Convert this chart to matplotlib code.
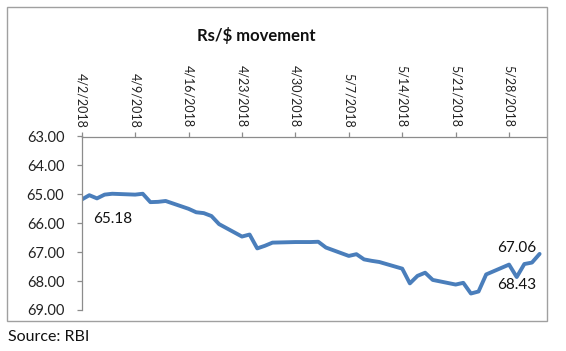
import matplotlib
matplotlib.use("Agg")
import matplotlib.pyplot as plt
from matplotlib.patches import Rectangle
import datetime as dt

plt.rcParams['font.family'] = ['Lato', 'DejaVu Sans']

dates = ["2018-04-02", "2018-04-03", "2018-04-04", "2018-04-05", "2018-04-06",
         "2018-04-09", "2018-04-10", "2018-04-11", "2018-04-12", "2018-04-13",
         "2018-04-16", "2018-04-17", "2018-04-18", "2018-04-19", "2018-04-20",
         "2018-04-23", "2018-04-24", "2018-04-25", "2018-04-26", "2018-04-27",
         "2018-04-30", "2018-05-02", "2018-05-03", "2018-05-04",
         "2018-05-07", "2018-05-08", "2018-05-09", "2018-05-10", "2018-05-11",
         "2018-05-14", "2018-05-15", "2018-05-16", "2018-05-17", "2018-05-18",
         "2018-05-21", "2018-05-22", "2018-05-23", "2018-05-24", "2018-05-25",
         "2018-05-28", "2018-05-29", "2018-05-30", "2018-05-31", "2018-06-01"]
rates = [65.18, 65.03, 65.14, 65.01, 64.98,
         65.01, 64.98, 65.27, 65.26, 65.23,
         65.50, 65.62, 65.65, 65.75, 66.03,
         66.46, 66.39, 66.87, 66.78, 66.67,
         66.65, 66.65, 66.64, 66.84,
         67.13, 67.07, 67.25, 67.30, 67.34,
         67.57, 68.08, 67.82, 67.71, 67.96,
         68.12, 68.06, 68.43, 68.36, 67.77,
         67.43, 67.86, 67.41, 67.36, 67.06]
tick_dates = ["2018-04-02", "2018-04-09", "2018-04-16", "2018-04-23", "2018-04-30",
              "2018-05-07", "2018-05-14", "2018-05-21", "2018-05-28"]
y_ticks = [63, 64, 65, 66, 67, 68, 69]
annotations = [("65.18", "2018-04-06", 65.85), ("67.06", "2018-05-29", 66.85),
               ("68.43", "2018-05-29", 68.15)]

x = [dt.datetime.strptime(d, "%Y-%m-%d") for d in dates]
xt = [dt.datetime.strptime(d, "%Y-%m-%d") for d in tick_dates]

W, H = 566, 351
fig = plt.figure(figsize=(W / 100, H / 100), dpi=100)
fig.patch.set_facecolor("white")

# chart border
fig.patches.append(Rectangle((7 / W, 1 - 321 / H), 540 / W, 314 / H,
                             transform=fig.transFigure, fill=False,
                             edgecolor="#a0a0a0", linewidth=1.0))

ax = fig.add_axes([81.7 / W, 1 - 310 / H, 464 / W, (310 - 136.5) / H])
ax.plot(x, rates, color="#4a7ebb", linewidth=2.8, solid_joinstyle="round",
        solid_capstyle="round")

ax.set_ylim(69, 63)
ax.set_yticks(y_ticks)
ax.set_yticklabels([f"{v:.2f}" for v in y_ticks])
ax.set_xlim(xt[0], xt[0] + dt.timedelta(days=60.8))
ax.set_xticks(xt)
ax.set_xticklabels([f"{d.month}/{d.day}/{d.year}" for d in xt], rotation=-90)
ax.xaxis.tick_top()
ax.xaxis.set_label_position("top")

for s in ["right", "bottom"]:
    ax.spines[s].set_visible(False)
for s in ["left", "top"]:
    ax.spines[s].set_color("#8c8c8c")
    ax.spines[s].set_linewidth(0.9)
ax.tick_params(axis="both", colors="#8c8c8c", length=3.5, width=0.9,
               labelcolor="#222222")
ax.tick_params(axis="x", pad=3, labelsize=9)
ax.tick_params(axis="y", pad=9, labelsize=10.5)

for txt, d, v in annotations:
    ax.text(dt.datetime.strptime(d, "%Y-%m-%d"), v, txt, fontsize=11,
            ha="center", va="center", color="#111111")

fig.text(256 / W, 1 - 35 / H, "Rs/$ movement", fontsize=12, fontweight="bold",
         ha="center", va="center", color="#111111")
fig.text(8 / W, 1 - 337 / H, "Source: RBI", fontsize=11.5, ha="left",
         va="center", color="#111111")

fig.savefig("out.png", dpi=100, facecolor="white")
